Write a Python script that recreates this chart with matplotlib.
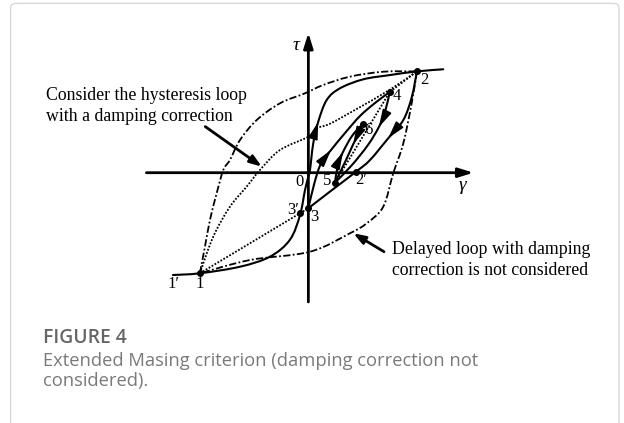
import numpy as np
import matplotlib
matplotlib.use("Agg")
import matplotlib.pyplot as plt
from matplotlib.path import Path
from matplotlib.patches import FancyBboxPatch, PathPatch

# ---- key points of the stress-strain path (gamma, tau) ----
point_names = ["1", "2", "3", "3′", "4", "5", "6", "2′"]
point_gamma = [-1.00, 1.00, 0.00, -0.074, 0.750, 0.245, 0.500, 0.436]
point_tau = [-0.993, 1.00, -0.351, -0.40, 0.797, -0.099, 0.481, 0.007]

# ---- solid branches ----
backbone_gamma = [-1.248, -1.00, -0.630, -0.354, -0.170, -0.077, -0.031, 0.000, 0.015,
                  0.045, 0.091, 0.169, 0.291, 0.506, 0.752, 1.00, 1.243]
backbone_tau = [-1.010, -0.993, -0.928, -0.829, -0.662, -0.418, -0.171, -0.039, 0.027,
                0.290, 0.503, 0.718, 0.833, 0.922, 0.964, 1.00, 1.021]

unload_23_gamma = [1.00, 0.954, 0.875, 0.736, 0.568, 0.436, 0.218, 0.00]
unload_23_tau = [1.00, 0.750, 0.520, 0.340, 0.125, 0.007, -0.171, -0.351]

reload_34_gamma = [0.00, 0.055, 0.117, 0.209, 0.338, 0.476, 0.614, 0.750]
reload_34_tau = [-0.351, -0.105, 0.093, 0.224, 0.392, 0.560, 0.688, 0.797]

unload_45_gamma = [0.750, 0.706, 0.650, 0.549, 0.402, 0.245]
unload_45_tau = [0.797, 0.599, 0.451, 0.273, 0.076, -0.099]

reload_56_gamma = [0.245, 0.273, 0.319, 0.402, 0.500]
reload_56_tau = [-0.099, 0.076, 0.204, 0.362, 0.481]

unload_65_gamma = [0.500, 0.457, 0.414, 0.347, 0.245]
unload_65_tau = [0.481, 0.372, 0.283, 0.125, -0.099]

# ---- loop without damping correction (dash-dot) ----
delayed_up_gamma = [-1.00, -0.953, -0.907, -0.845, -0.784, -0.723, -0.630, -0.476,
                    -0.262, -0.031, 0.137, 0.383, 0.690, 1.00]
delayed_up_tau = [-0.993, -0.730, -0.467, -0.203, 0.027, 0.125, 0.323, 0.520,
                  0.685, 0.784, 0.866, 0.948, 0.997, 1.00]
delayed_down_gamma = [1.00, 0.952, 0.875, 0.782, 0.690, 0.537, 0.383, 0.015, -0.538, -1.00]
delayed_down_tau = [1.00, 0.685, 0.290, -0.006, -0.336, -0.500, -0.598, -0.780, -0.862, -0.993]

# ---- loop with damping correction (dotted) ----
corrected_gamma = [-1.00, -0.877, -0.723, -0.569, -0.446, -0.262, 0.000, 0.076,
                   0.200, 0.445, 0.752, 1.00]
corrected_tau = [-0.993, -0.632, -0.336, -0.138, 0.027, 0.224, 0.355, 0.438,
                 0.484, 0.629, 0.820, 1.00]
chord_13_gamma = [-1.00, 0.00]
chord_13_tau = [-0.993, -0.351]
chord_542_gamma = [0.245, 0.750, 1.00]
chord_542_tau = [-0.099, 0.797, 1.00]

# direction arrows: (branch, index of the arrow tip in that branch)
branch_arrows = [("backbone", 10), ("unload_23", 3), ("reload_34", 3),
                 ("unload_45", 2), ("reload_56", 2), ("unload_65", 2)]


def smooth_path(xs, ys):
    """Cubic Bezier path passing through every given point (Catmull-Rom tangents)."""
    pts = np.column_stack([xs, ys]).astype(float)
    verts = [pts[0]]
    codes = [Path.MOVETO]
    n = len(pts)
    for i in range(n - 1):
        p0 = pts[i - 1] if i > 0 else pts[i]
        p1, p2 = pts[i], pts[i + 1]
        p3 = pts[i + 2] if i + 2 < n else pts[i + 1]
        verts += [p1 + (p2 - p0) / 6.0, p2 - (p3 - p1) / 6.0, p2]
        codes += [Path.CURVE4] * 3
    return Path(verts, codes)


fig = plt.figure(figsize=(6.24, 4.23), dpi=100)
ax = fig.add_axes([0, 0, 1, 1])
ax.set_xlim(-2.842, 2.909)
ax.set_ylim(-2.471, 1.705)
ax.axis("off")

serif = ["Liberation Serif", "DejaVu Serif"]

# card border
fig.patches.append(FancyBboxPatch((0.017, -0.05), 0.975, 1.042,
                                  boxstyle="round,pad=0,rounding_size=0.01",
                                  transform=fig.transFigure, fill=False,
                                  edgecolor="#d8d8d8", linewidth=1.0))

# axes with arrows
ax.annotate("", xy=(1.522, 0), xytext=(-1.493, 0),
            arrowprops=dict(arrowstyle="-|>,head_length=0.9,head_width=0.28",
                            color="black", lw=2.0, shrinkA=0, shrinkB=0))
ax.annotate("", xy=(0, 1.38), xytext=(0, -1.276),
            arrowprops=dict(arrowstyle="-|>,head_length=0.9,head_width=0.28",
                            color="black", lw=2.0, shrinkA=0, shrinkB=0))
ax.text(-0.11, 1.26, "τ", family=serif, style="italic", fontsize=14, ha="center", va="center")
ax.text(1.42, -0.13, "γ", family=serif, style="italic", fontsize=14, ha="center", va="center")

branches = {
    "backbone": (backbone_gamma, backbone_tau),
    "unload_23": (unload_23_gamma, unload_23_tau),
    "reload_34": (reload_34_gamma, reload_34_tau),
    "unload_45": (unload_45_gamma, unload_45_tau),
    "reload_56": (reload_56_gamma, reload_56_tau),
    "unload_65": (unload_65_gamma, unload_65_tau),
}
for g, t in branches.values():
    ax.add_patch(PathPatch(smooth_path(g, t), fill=False, edgecolor="black", lw=1.5,
                           capstyle="round", joinstyle="round"))

dashdot = (0, (4, 1.3, 1, 1.3))
dotted = (0, (1, 0.9))
for g, t, ls in [(delayed_up_gamma, delayed_up_tau, dashdot),
                 (delayed_down_gamma, delayed_down_tau, dashdot),
                 (corrected_gamma, corrected_tau, dotted)]:
    ax.add_patch(PathPatch(smooth_path(g, t), fill=False, edgecolor="black", lw=1.3,
                           linestyle=ls))
ax.plot(chord_13_gamma, chord_13_tau, color="black", lw=1.3, ls=dotted)
ax.plot(chord_542_gamma, chord_542_tau, color="black", lw=1.3, ls=dotted)

for name, i in branch_arrows:
    g, t = branches[name]
    tip = np.array([g[i], t[i]])
    tangent = np.array([g[i + 1] - g[i - 1], t[i + 1] - t[i - 1]])
    tangent /= np.hypot(*tangent)
    ax.annotate("", xy=tip, xytext=tip - 0.06 * tangent,
                arrowprops=dict(arrowstyle="-|>,head_length=0.8,head_width=0.22",
                                mutation_scale=13, color="black", lw=1.2,
                                shrinkA=0, shrinkB=0))

ax.scatter(point_gamma, point_tau, s=16, color="black", zorder=5)

label_offsets = {"1": (0, -11), "2": (8, -9), "3": (6, -9), "3′": (-7, 3),
                 "4": (7, -4), "5": (-8, 2), "6": (6, -6), "2′": (6, -8)}
for name, g, t in zip(point_names, point_gamma, point_tau):
    ax.annotate(name, (g, t), xytext=label_offsets[name], textcoords="offset pixels",
                family=serif, fontsize=12, ha="center", va="center")
ax.annotate("1′", (point_gamma[0], point_tau[0]), xytext=(-26, -11), textcoords="offset pixels",
            family=serif, fontsize=12, ha="center", va="center")
ax.annotate("0", (0, 0), xytext=(-9, -9), textcoords="offset pixels",
            family=serif, fontsize=12, ha="center", va="center")

# callouts
ax.text(-2.42, 0.655, "Consider the hysteresis loop\nwith a damping correction",
        family=serif, fontsize=12.8, ha="left", va="center", linespacing=1.3)
ax.annotate("", xy=(-0.43, 0.06), xytext=(-0.95, 0.455),
            arrowprops=dict(arrowstyle="-|>,head_length=0.7,head_width=0.25",
                            color="black", lw=2.0, shrinkA=0, shrinkB=0))
ax.text(0.77, -0.865, "Delayed loop with damping\ncorrection is not considered",
        family=serif, fontsize=12.8, ha="left", va="center", linespacing=1.3)
ax.annotate("", xy=(0.415, -0.598), xytext=(0.697, -0.78),
            arrowprops=dict(arrowstyle="-|>,head_length=0.7,head_width=0.25",
                            color="black", lw=2.0, shrinkA=0, shrinkB=0))

# caption
sans = ["Open Sans", "DejaVu Sans"]
fig.text(0.069, 1 - 338 / 423, "FIGURE 4", family=sans, fontsize=13.9, fontweight="semibold",
         color="#666666", ha="left", va="center")
fig.text(0.069, 1 - 371 / 423,
         "Extended Masing criterion (damping correction not\nconsidered).",
         family=sans, fontsize=13.2, color="#7a7a7a", ha="left", va="center", linespacing=1.2)

fig.savefig("out.png", dpi=100)
